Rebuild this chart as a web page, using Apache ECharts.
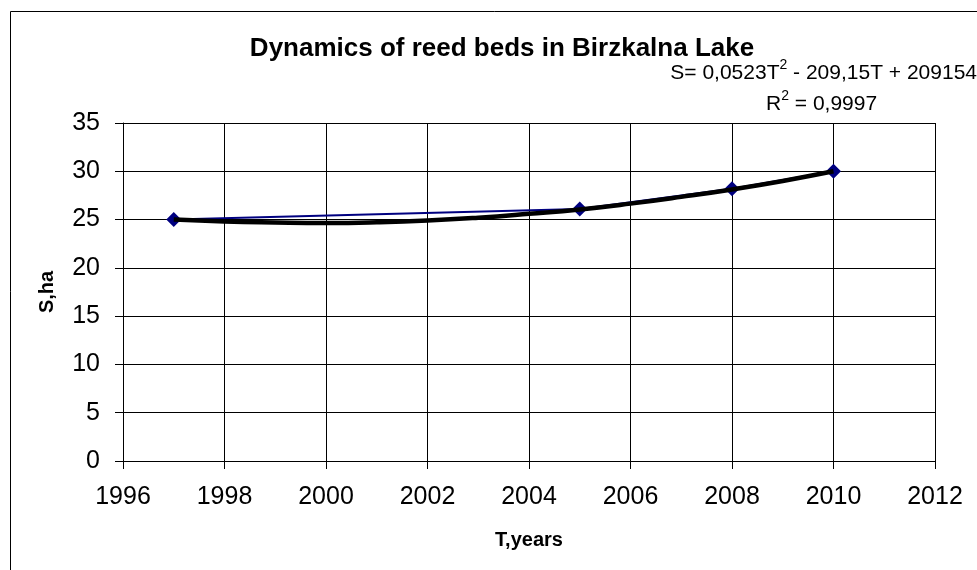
<!DOCTYPE html>
<html>
<head>
<meta charset="utf-8">
<script src="https://cdn.jsdelivr.net/npm/echarts@6/dist/echarts.min.js"></script>
<style>
html,body{margin:0;padding:0;background:#fff;}
#chart{width:977px;height:570px;}
</style>
</head>
<body>
<div id="chart"></div>
<script>
// Observed data
var years = [1997, 2005, 2008, 2010];
var areas = [25, 26.1, 28.2, 30];
// Trend line
var trendYears = [1997, 1998, 1999, 2000, 2001, 2002, 2003, 2004, 2005, 2006, 2007, 2008, 2009, 2010];
var trendValues = [25.0, 24.8, 24.7, 24.65, 24.72, 24.9, 25.2, 25.6, 26.05, 26.65, 27.35, 28.12, 29.0, 30.0];
var titleText = 'Dynamics of reed beds in Birzkalna Lake';
var xName = 'T,years';
var yName = 'S,ha';

var chart = echarts.init(document.getElementById('chart'));
var fontFam = '"Liberation Sans", Arial, sans-serif';
var richEq = {
  n: {fontFamily: fontFam, fontSize: 21, color: '#000', lineHeight: 26, verticalAlign: 'bottom'},
  s: {fontFamily: fontFam, fontSize: 14, color: '#000', lineHeight: 14, verticalAlign: 'top'}
};
chart.setOption({
  animation: false,
  backgroundColor: '#fff',
  title: {
    text: titleText,
    left: 497, top: 31, textAlign: 'center',
    textStyle: {fontFamily: fontFam, fontSize: 26, fontWeight: 'bold', color: '#000'}
  },
  graphic: [
    {type: 'rect', left: 8, top: 9, shape: {width: 1000, height: 600}, style: {fill: 'none', stroke: '#000', lineWidth: 1}, z: -1},
    {type: 'text', right: 0, top: 58, style: {
      text: '{n|S= 0,0523T}{s|2}{n| - 209,15T + 209154}',
      rich: richEq
    }},
    {type: 'text', left: 766, top: 89, style: {
      text: '{n|R}{s|2}{n| = 0,9997}',
      rich: richEq
    }}
  ],
  grid: {left: 123, right: 42, top: 123, bottom: 109, containLabel: false},
  xAxis: {
    type: 'value', min: 1996, max: 2012, interval: 2,
    name: xName, nameLocation: 'middle', nameGap: 69,
    nameTextStyle: {fontFamily: fontFam, fontSize: 20, fontWeight: 'bold', color: '#000'},
    axisLine: {show: true, onZero: false, lineStyle: {color: '#000', width: 1}},
    axisTick: {show: true, length: 8, inside: false, lineStyle: {color: '#000'}},
    axisLabel: {fontFamily: fontFam, fontSize: 25, color: '#000', margin: 24, formatter: function(v){return String(v);}},
    splitLine: {show: true, lineStyle: {color: '#000', width: 1}}
  },
  yAxis: {
    type: 'value', min: 0, max: 35, interval: 5,
    name: yName, nameLocation: 'middle', nameGap: 66, nameRotate: 90,
    nameTextStyle: {fontFamily: fontFam, fontSize: 20, fontWeight: 'bold', color: '#000'},
    axisLine: {show: true, lineStyle: {color: '#000', width: 1}},
    axisTick: {show: true, length: 8, inside: false, lineStyle: {color: '#000'}},
    axisLabel: {fontFamily: fontFam, fontSize: 25, color: '#000', margin: 23},
    splitLine: {show: true, lineStyle: {color: '#000', width: 1}}
  },
  series: [
    {
      type: 'line',
      data: years.map(function(y, i){return [y, areas[i]];}),
      lineStyle: {color: '#000080', width: 2},
      itemStyle: {color: '#000080'},
      symbol: 'diamond', symbolSize: 15, showSymbol: true,
      z: 2
    },
    {
      type: 'line',
      data: trendYears.map(function(y, i){return [y, trendValues[i]];}),
      smooth: true,
      lineStyle: {color: '#000', width: 4.5},
      symbol: 'none',
      z: 3
    }
  ]
});
</script>
</body>
</html>
